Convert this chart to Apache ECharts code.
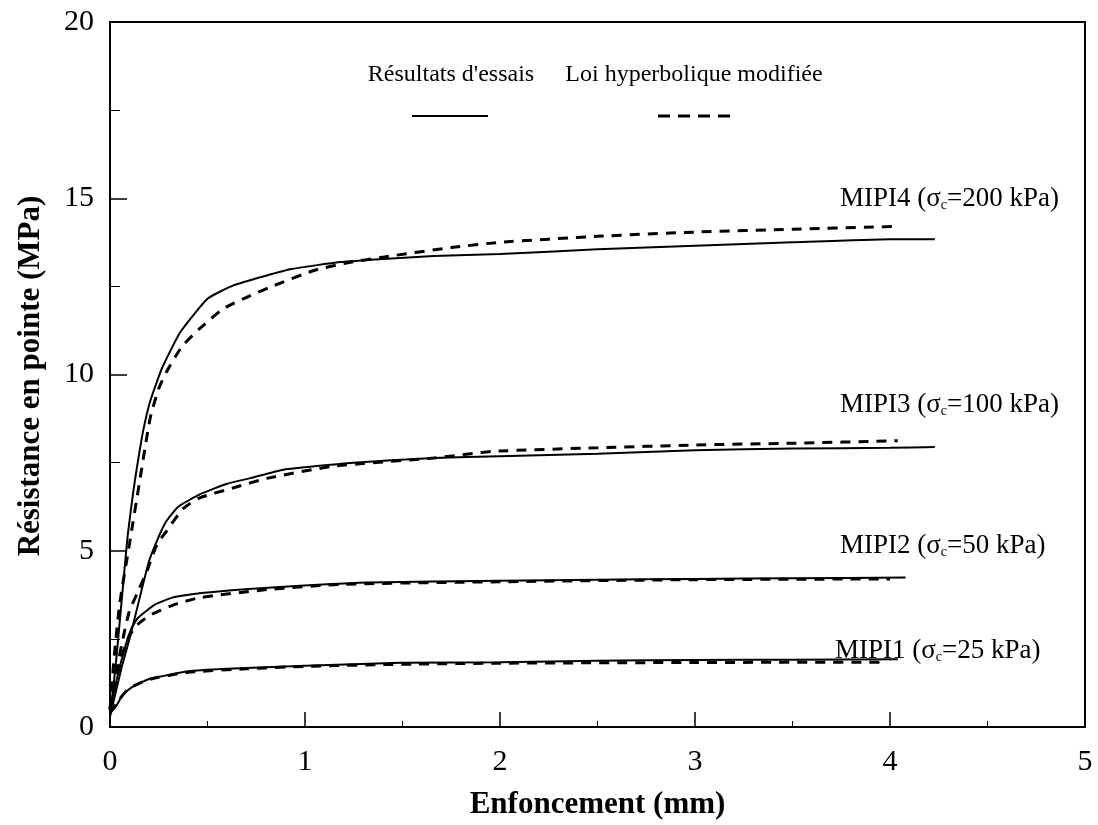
<!DOCTYPE html>
<html>
<head>
<meta charset="utf-8">
<script src="https://cdn.jsdelivr.net/npm/echarts@6/dist/echarts.min.js"></script>
<style>
html,body{margin:0;padding:0;background:#fff;}
#chart{width:1098px;height:825px;}
</style>
</head>
<body>
<div id="chart"></div>
<script>
// Tick labels
var xTicks = [0, 1, 2, 3, 4, 5];
var yTicks = [0, 5, 10, 15, 20];

// Series names
var curveNames = ['MIPI4', 'MIPI3', 'MIPI2', 'MIPI1'];
var confinement = ['200', '100', '50', '25'];
var legendNames = ['Résultats d\'essais', 'Loi hyperbolique modifiée'];

// Experimental results (solid) [enfoncement mm, résistance MPa]
var mipi4Exp = [[0,0.3],[0.03,1.8],[0.06,3.6],[0.09,5.4],[0.12,6.7],[0.142,7.5],[0.17,8.4],[0.206,9.24],[0.266,10.17],[0.36,11.2],[0.5,12.15],[0.63,12.52],[0.8,12.8],[0.93,12.99],[1.18,13.19],[1.4,13.28],[1.66,13.36],[2.0,13.42],[2.5,13.55],[3.0,13.65],[3.5,13.75],[4.0,13.84],[4.23,13.84]];
var mipi3Exp = [[0,0.3],[0.03,1.0],[0.06,1.7],[0.1,2.5],[0.145,3.5],[0.2,4.7],[0.25,5.4],[0.29,5.85],[0.35,6.25],[0.46,6.6],[0.6,6.9],[0.72,7.06],[0.89,7.3],[1.23,7.49],[1.66,7.63],[2.0,7.68],[2.5,7.75],[3.0,7.85],[3.5,7.9],[4.0,7.92],[4.23,7.94]];
var mipi2Exp = [[0,0.4],[0.02,1.0],[0.05,1.7],[0.077,2.26],[0.11,2.8],[0.144,3.1],[0.23,3.47],[0.32,3.67],[0.47,3.8],[0.81,3.95],[1.32,4.1],[2.0,4.15],[2.5,4.18],[3.0,4.2],[3.5,4.22],[4.08,4.24]];
var mipi1Exp = [[0,0.4],[0.026,0.55],[0.068,0.93],[0.113,1.13],[0.2,1.36],[0.4,1.58],[0.6,1.65],[1.0,1.74],[1.49,1.82],[2.0,1.84],[2.5,1.88],[3.0,1.9],[3.5,1.91],[4.04,1.92]];

// Modified hyperbolic law (dashed)
var mipi4Model = [[0,0.5],[0.02,1.9],[0.05,3.5],[0.1,5.2],[0.15,6.9],[0.206,8.76],[0.25,9.6],[0.29,10.08],[0.37,10.8],[0.46,11.3],[0.58,11.86],[0.72,12.24],[0.84,12.52],[1.045,12.95],[1.2,13.15],[1.4,13.33],[1.75,13.6],[2.0,13.75],[2.5,13.92],[3.0,14.04],[3.5,14.12],[4.04,14.2]];
var mipi3Model = [[0,0.5],[0.03,1.5],[0.07,2.6],[0.1,3.3],[0.14,3.8],[0.19,4.43],[0.24,5.17],[0.29,5.56],[0.376,6.2],[0.46,6.5],[0.63,6.78],[0.81,7.06],[1.15,7.4],[1.66,7.63],[1.97,7.82],[2.5,7.92],[3.0,8.0],[3.5,8.05],[4.04,8.12]];
var mipi2Model = [[0,0.5],[0.03,1.3],[0.06,2.0],[0.1,2.6],[0.15,2.95],[0.216,3.2],[0.33,3.47],[0.46,3.67],[0.81,3.9],[1.2,4.05],[2.0,4.12],[3.0,4.18],[4.0,4.2]];
var mipi1Model = [[0,0.4],[0.05,0.8],[0.1,1.1],[0.2,1.35],[0.4,1.55],[0.7,1.65],[1.0,1.72],[1.5,1.78],[2.0,1.81],[3.0,1.83],[3.96,1.84]];

var expSets = [mipi4Exp, mipi3Exp, mipi2Exp, mipi1Exp];
var modelSets = [mipi4Model, mipi3Model, mipi2Model, mipi1Model];

var FONT = '"Liberation Serif", "DejaVu Serif", serif';
var chart = echarts.init(document.getElementById('chart'), null, {renderer: 'canvas'});

var series = [];
expSets.forEach(function (d, i) {
  series.push({
    name: curveNames[i] + ' ' + legendNames[0], type: 'line', data: d, showSymbol: false,
    lineStyle: {color: '#000', width: 2, type: 'solid'}, smooth: 0.15, z: 3
  });
});
modelSets.forEach(function (d, i) {
  series.push({
    name: curveNames[i] + ' ' + legendNames[1], type: 'line', data: d, showSymbol: false,
    lineStyle: {color: '#000', width: 3, type: [10, 8]}, smooth: 0.2, z: 2
  });
});

var labelPos = [[840, 200], [840, 406], [840, 547], [835, 652]];
var graphics = [];
curveNames.forEach(function (n, i) {
  graphics.push({
    type: 'text', left: labelPos[i][0], top: labelPos[i][1] - 15, z: 10,
    style: {
      text: '{a|' + n + ' (σ}{s|c}{a|=' + confinement[i] + ' kPa)}',
      rich: {
        a: {fontFamily: FONT, fontSize: 27, fill: '#000', color: '#000'},
        s: {fontFamily: FONT, fontSize: 14, fill: '#000', color: '#000', verticalAlign: 'bottom', padding: [11, 0, 0, 0]}
      }
    }
  });
});
// legend
graphics.push({type: 'text', z: 10, style: {text: legendNames[0], x: 451, y: 75, textAlign: 'center', textVerticalAlign: 'middle', font: '24px ' + FONT, fill: '#000'}});
graphics.push({type: 'text', z: 10, style: {text: legendNames[1], x: 694, y: 75, textAlign: 'center', textVerticalAlign: 'middle', font: '24px ' + FONT, fill: '#000'}});
graphics.push({type: 'line', z: 10, shape: {x1: 412, y1: 116, x2: 488, y2: 116}, style: {stroke: '#000', lineWidth: 2}});
graphics.push({type: 'line', z: 10, shape: {x1: 658, y1: 116, x2: 734, y2: 116}, style: {stroke: '#000', lineWidth: 3, lineDash: [12, 8]}});
// y axis title
graphics.push({type: 'text', z: 10, x: 31, y: 376, rotation: Math.PI / 2,
  style: {text: 'Résistance en pointe (MPa)', x: 0, y: 0, textAlign: 'center', textVerticalAlign: 'middle', font: 'bold 31px ' + FONT, fill: '#000'}});

var option = {
  backgroundColor: '#fff',
  animation: false,
  grid: {left: 110, top: 22, right: 13, bottom: 95, show: true, borderColor: '#000', borderWidth: 2, backgroundColor: 'transparent'},
  xAxis: {
    type: 'value', min: xTicks[0], max: xTicks[xTicks.length - 1], interval: 1,
    name: 'Enfoncement (mm)', nameLocation: 'middle', nameGap: 62,
    nameTextStyle: {fontFamily: FONT, fontSize: 31, fontWeight: 'bold', color: '#000'},
    axisLine: {show: true, lineStyle: {color: '#000', width: 2}},
    axisTick: {show: true, inside: true, length: 15, lineStyle: {color: '#000', width: 1.5}},
    minorTick: {show: true, splitNumber: 2, length: 6, lineStyle: {color: '#000', width: 1}},
    axisLabel: {fontFamily: FONT, fontSize: 30, color: '#000', margin: 20},
    splitLine: {show: false}
  },
  yAxis: {
    type: 'value', min: yTicks[0], max: yTicks[yTicks.length - 1], interval: 5,
    axisLine: {show: true, lineStyle: {color: '#000', width: 2}},
    axisTick: {show: true, inside: true, length: 17, lineStyle: {color: '#000', width: 1.5}},
    minorTick: {show: true, splitNumber: 2, length: 10, lineStyle: {color: '#000', width: 1}},
    axisLabel: {fontFamily: FONT, fontSize: 30, color: '#000', margin: 16},
    splitLine: {show: false}
  },
  graphic: graphics,
  series: series
};
chart.setOption(option);
</script>
</body>
</html>
